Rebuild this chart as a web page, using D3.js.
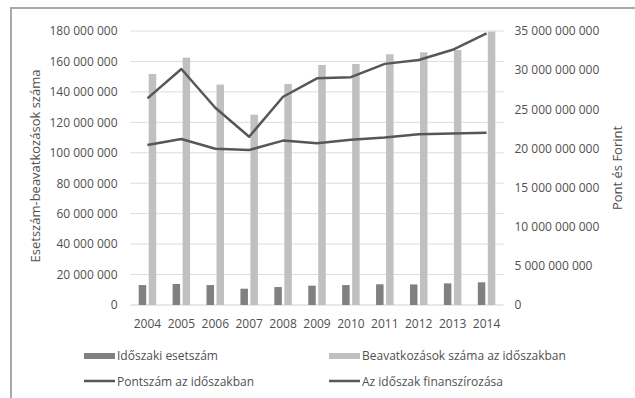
<!DOCTYPE html>
<html>
<head>
<meta charset="utf-8">
<script src="https://cdn.jsdelivr.net/npm/d3@7"></script>
<style>
  html, body { margin: 0; padding: 0; background: #fff; }
  svg { display: block; font-family: "Open Sans", sans-serif; }
</style>
</head>
<body>
<svg id="chart" width="635" height="398"></svg>
<script>
// Years on the category axis
const years = ["2004","2005","2006","2007","2008","2009","2010","2011","2012","2013","2014"];

// Left axis series (cases / interventions)
const esetszam = [13100000, 13800000, 13100000, 10700000, 11800000, 12700000, 13100000, 13600000, 13500000, 14200000, 14900000];
const beavatkozasok = [151800000, 162500000, 144800000, 125000000, 145200000, 157700000, 158300000, 164700000, 166000000, 167500000, 179600000];

// Right axis series (points and forints)
const pontszam = [26400000000, 30150000000, 25200000000, 21500000000, 26600000000, 28950000000, 29100000000, 30800000000, 31300000000, 32600000000, 34700000000];
const finanszirozas = [20450000000, 21200000000, 19950000000, 19800000000, 21000000000, 20650000000, 21100000000, 21400000000, 21800000000, 21900000000, 22000000000];

// Tick values
const leftTicks = [0, 20000000, 40000000, 60000000, 80000000, 100000000, 120000000, 140000000, 160000000, 180000000];
const rightTicks = [0, 5000000000, 10000000000, 15000000000, 20000000000, 25000000000, 30000000000, 35000000000];

// Legend labels
const legendLabels = ["Időszaki esetszám", "Beavatkozások száma az időszakban", "Pontszám az időszakban", "Az időszak finanszírozása"];

const svg = d3.select("#chart");
const textColor = "#505050";
const darkBar = "#808080";
const lightBar = "#c0c0c0";
const lineColor = "#575757";

// Outer frame
svg.append("rect")
  .attr("x", 11).attr("y", 8)
  .attr("width", 700).attr("height", 500)
  .attr("fill", "none").attr("stroke", "#a9a9a9").attr("stroke-width", 2);

const plot = { left: 130.5, right: 503.5, top: 31, bottom: 305 };

const x = d3.scaleBand().domain(years).range([plot.left, plot.right]).paddingInner(0).paddingOuter(0);
const bw = x.bandwidth();
const x1 = d3.scaleBand().domain(["e", "b"]).range([bw / 2 - 8.75, bw / 2 + 8.75]).paddingInner(0.25);

const yL = d3.scaleLinear().domain([0, 180000000]).range([plot.bottom, plot.top]);
const yR = d3.scaleLinear().domain([0, 35000000000]).range([plot.bottom, plot.top]);

const fmtSp = v => d3.format(",")(v).replace(/,/g, " ");

// Gridlines
svg.append("g")
  .selectAll("line").data(leftTicks).join("line")
  .attr("x1", plot.left).attr("x2", plot.right)
  .attr("y1", d => yL(d)).attr("y2", d => yL(d))
  .attr("stroke", d => d === 0 ? "#d0d0d0" : "#dcdcdc").attr("stroke-width", 1);

// Left axis
const axL = svg.append("g")
  .attr("transform", `translate(${plot.left - 13},0)`)
  .call(d3.axisLeft(yL).tickValues(leftTicks).tickFormat(fmtSp).tickSize(0).tickPadding(0));
axL.select(".domain").remove();
axL.selectAll("text").attr("fill", textColor).style("font-size", "12px").style("font-family", "Open Sans, sans-serif");

// Right axis
const axR = svg.append("g")
  .attr("transform", `translate(${plot.right + 11},0)`)
  .call(d3.axisRight(yR).tickValues(rightTicks).tickFormat(fmtSp).tickSize(0).tickPadding(0));
axR.select(".domain").remove();
axR.selectAll("text").attr("fill", textColor).style("font-size", "12px").style("font-family", "Open Sans, sans-serif");

// Bottom axis
const axB = svg.append("g")
  .attr("transform", `translate(0,${plot.bottom + 8})`)
  .call(d3.axisBottom(x).tickSize(0).tickPadding(6));
axB.select(".domain").remove();
axB.selectAll("text").attr("fill", textColor).style("font-size", "12px").style("font-family", "Open Sans, sans-serif");

// Bars
const groups = svg.append("g").selectAll("g").data(years).join("g")
  .attr("transform", d => `translate(${x(d)},0)`);
groups.append("rect")
  .attr("x", x1("e")).attr("width", x1.bandwidth())
  .attr("y", (d, i) => yL(esetszam[i]))
  .attr("height", (d, i) => yL(0) - yL(esetszam[i]))
  .attr("fill", darkBar);
groups.append("rect")
  .attr("x", x1("b")).attr("width", x1.bandwidth())
  .attr("y", (d, i) => yL(beavatkozasok[i]))
  .attr("height", (d, i) => yL(0) - yL(beavatkozasok[i]))
  .attr("fill", lightBar);

// Lines on the right axis
const line = d3.line()
  .x((d, i) => x(years[i]) + bw / 2)
  .y(d => yR(d));
[pontszam, finanszirozas].forEach(series => {
  svg.append("path")
    .datum(series)
    .attr("d", line)
    .attr("fill", "none")
    .attr("stroke", lineColor)
    .attr("stroke-width", 2.5)
    .attr("stroke-linejoin", "round");
});

// Axis titles
svg.append("text")
  .attr("transform", `translate(40,166) rotate(-90)`)
  .attr("text-anchor", "middle")
  .attr("fill", textColor)
  .style("font-size", "13px")
  .text("Esetszám-beavatkozások száma");
svg.append("text")
  .attr("transform", `translate(622,168) rotate(-90)`)
  .attr("text-anchor", "middle")
  .attr("fill", textColor)
  .style("font-size", "13px")
  .text("Pont és Forint");

// Legend
const legendPos = [
  { x: 84, y: 356, type: "rect", color: darkBar },
  { x: 329, y: 356, type: "rect", color: lightBar },
  { x: 84, y: 382, type: "line", color: lineColor },
  { x: 329, y: 382, type: "line", color: lineColor }
];
const leg = svg.append("g").selectAll("g").data(legendLabels).join("g")
  .attr("transform", (d, i) => `translate(${legendPos[i].x},${legendPos[i].y})`);
leg.each(function (d, i) {
  const g = d3.select(this);
  const p = legendPos[i];
  if (p.type === "rect") {
    g.append("rect").attr("x", 0).attr("y", -3).attr("width", 31).attr("height", 6).attr("fill", p.color);
  } else {
    g.append("line").attr("x1", 0).attr("x2", 31).attr("y1", -1).attr("y2", -1)
      .attr("stroke", p.color).attr("stroke-width", 2.5);
  }
  g.append("text").attr("x", 33).attr("y", 0).attr("dy", "0.35em")
    .attr("fill", textColor).style("font-size", "12px").text(d);
});
</script>
</body>
</html>
